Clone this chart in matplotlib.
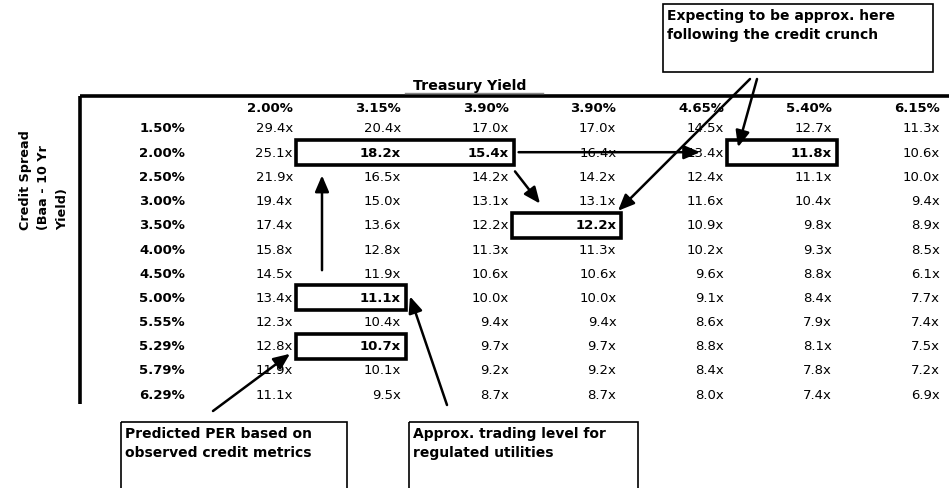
import matplotlib
matplotlib.use("Agg")
import matplotlib.pyplot as plt
import matplotlib.patches as patches

# ---- data ----
treasury = ['2.00%', '3.15%', '3.90%', '3.90%', '4.65%', '5.40%', '6.15%']
spreads = ['1.50%', '2.00%', '2.50%', '3.00%', '3.50%', '4.00%', '4.50%',
           '5.00%', '5.55%', '5.29%', '5.79%', '6.29%']
per = [
    [29.4, 20.4, 17.0, 17.0, 14.5, 12.7, 11.3],
    [25.1, 18.2, 15.4, 16.4, 13.4, 11.8, 10.6],
    [21.9, 16.5, 14.2, 14.2, 12.4, 11.1, 10.0],
    [19.4, 15.0, 13.1, 13.1, 11.6, 10.4, 9.4],
    [17.4, 13.6, 12.2, 12.2, 10.9, 9.8, 8.9],
    [15.8, 12.8, 11.3, 11.3, 10.2, 9.3, 8.5],
    [14.5, 11.9, 10.6, 10.6, 9.6, 8.8, 6.1],
    [13.4, 11.1, 10.0, 10.0, 9.1, 8.4, 7.7],
    [12.3, 10.4, 9.4, 9.4, 8.6, 7.9, 7.4],
    [12.8, 10.7, 9.7, 9.7, 8.8, 8.1, 7.5],
    [11.9, 10.1, 9.2, 9.2, 8.4, 7.8, 7.2],
    [11.1, 9.5, 8.7, 8.7, 8.0, 7.4, 6.9],
]
# highlighted cells: (row, first col, last col)
boxes = [(1, 1, 2), (1, 5, 5), (4, 3, 3), (7, 1, 1), (9, 1, 1)]
bold_cells = [(1, 1), (1, 2), (1, 5), (4, 3), (7, 1), (9, 1)]
notes = [
    "Expecting to be approx. here\nfollowing the credit crunch",
    "Predicted PER based on\nobserved credit metrics",
    "Approx. trading level for\nregulated utilities",
]
col_title = "Treasury Yield"
row_title = "Credit Spread\n(Baa - 10 Yr\nYield)"

# ---- layout (pixel space) ----
W, H = 949, 489
fs = 9.5
fam = 'DejaVu Sans'


def col_x(c):
    return 293 + 107.8 * c


def row_y(r):
    return 129 + 24.2 * r


fig = plt.figure(figsize=(W / 100, H / 100), dpi=100)
ax = fig.add_axes([0, 0, 1, 1])
ax.set_xlim(0, W)
ax.set_ylim(H, 0)
ax.axis('off')

# frame lines
ax.plot([80, W], [97, 97], color='black', lw=2.6, solid_capstyle='butt')
ax.plot([80, 80], [97, 405], color='black', lw=2.6, solid_capstyle='butt')
ax.plot([405, 543], [94, 94], color='#888888', lw=1)

ax.text(470, 86, col_title, ha='center', va='center', fontsize=10.2,
        fontweight='bold', family=fam)
ax.text(44, 230, row_title, ha='center', va='bottom', rotation=90,
        fontsize=fs - 0.3, fontweight='bold', family=fam,
        multialignment='left', linespacing=1.55)

for c, t in enumerate(treasury):
    ax.text(col_x(c), 108, t, ha='right', va='center', fontsize=fs,
            fontweight='bold', family=fam)

for r, s in enumerate(spreads):
    ax.text(185, row_y(r), s, ha='right', va='center', fontsize=fs,
            fontweight='bold', family=fam)
    for c, v in enumerate(per[r]):
        w = 'bold' if (r, c) in bold_cells else 'normal'
        ax.text(col_x(c), row_y(r), f"{v:.1f}x", ha='right', va='center',
                fontsize=fs, fontweight=w, family=fam)

for r, c0, c1 in boxes:
    x0 = col_x(c0 - 1) + 3
    x1 = col_x(c1) + 5
    ax.add_patch(patches.Rectangle((x0, row_y(r) - 12), x1 - x0, 25,
                                   fill=False, ec='black', lw=2.6))

# annotation boxes
note_boxes = [(663, 5, 270, 68), (121, 423, 226, 80), (409, 423, 229, 80)]
for (bx, by, bw, bh), txt in zip(note_boxes, notes):
    ax.add_patch(patches.Rectangle((bx, by), bw, bh, fill=False,
                                   ec='black', lw=1.2))
    ax.text(bx + 4, by + 4, txt, ha='left', va='top', fontsize=10,
            fontweight='bold', family=fam, linespacing=1.45)

# arrows
arrows = [
    ((322, row_y(6) - 3), (322, row_y(2) - 1)),
    ((col_x(2) + 10, row_y(1)), (col_x(4) - 24, row_y(1))),
    ((515, row_y(2) - 5), (540, row_y(3) + 3)),
    ((757, 80), (738, row_y(1) - 5)),
    ((750, 80), (618, row_y(4) - 14)),
    ((213, 412), (290, row_y(9) + 8)),
    ((447, 406), (410, row_y(7) - 1)),
]
for start, end in arrows:
    ax.annotate('', xy=end, xytext=start,
                arrowprops=dict(arrowstyle='-|>,head_length=0.7,head_width=0.3',
                                color='black', lw=1.8, mutation_scale=14,
                                shrinkA=0, shrinkB=0))

fig.savefig('out.png', dpi=100)
